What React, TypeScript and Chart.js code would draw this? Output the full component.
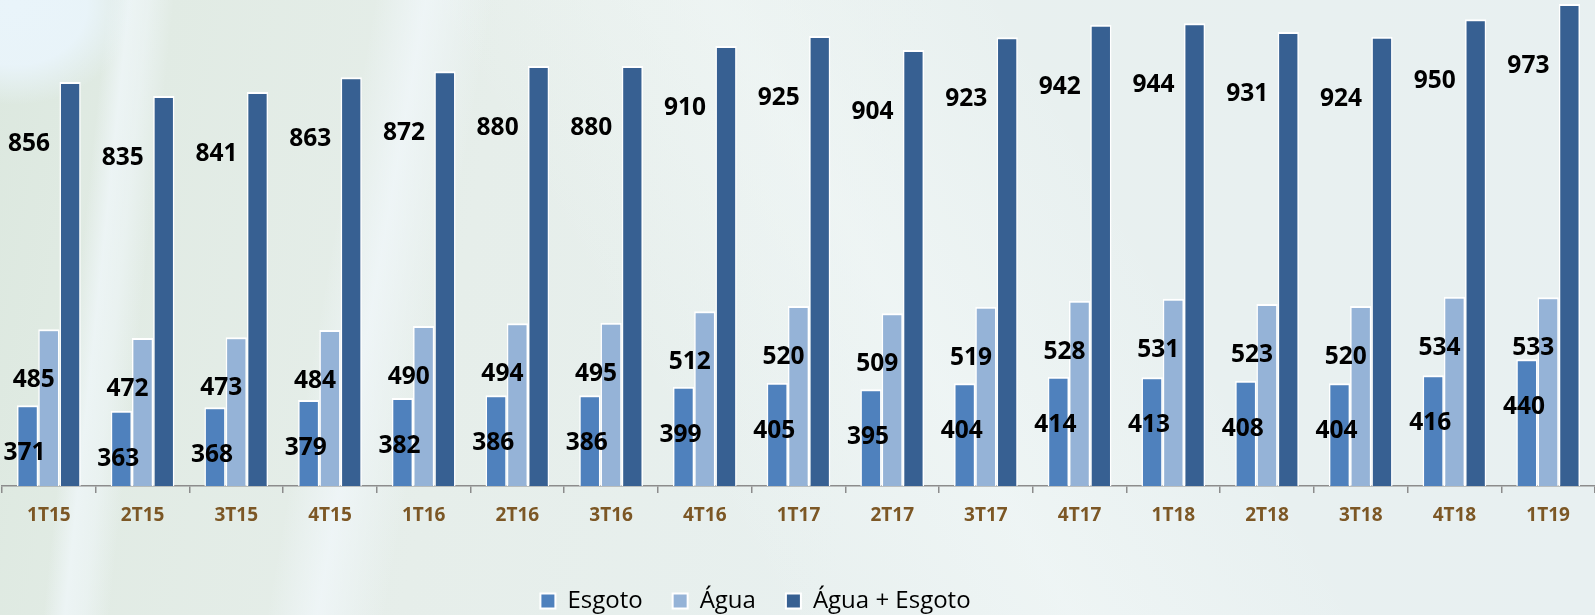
import React, { useEffect, useRef } from "react";
import { Chart, registerables } from "chart.js";

Chart.register(...registerables);

const categories = ["1T15", "2T15", "3T15", "4T15", "1T16", "2T16", "3T16", "4T16", "1T17", "2T17", "3T17", "4T17", "1T18", "2T18", "3T18", "4T18", "1T19"];
const esgoto = [371, 363, 368, 379, 382, 386, 386, 399, 405, 395, 404, 414, 413, 408, 404, 416, 440];
const agua = [485, 472, 473, 484, 490, 494, 495, 512, 520, 509, 519, 528, 531, 523, 520, 534, 533];
const aguaEsgoto = [856, 835, 841, 863, 872, 880, 880, 910, 925, 904, 923, 942, 944, 931, 924, 950, 973];
const seriesNames = ["Esgoto", "Água", "Água + Esgoto"];

const yMin = 250;
const yMax = 979;

const seriesColors = ["#4f81bd", "#95b3d7", "#376092"];
// label placement relative to each bar's top (pixels)
const labelOffsets = [
  { dx: -3, dy: 48 },
  { dx: -15, dy: 51 },
  { dx: -41, dy: 62 },
];

const valueLabels = {
  id: "valueLabels",
  afterDatasetsDraw(chart: any) {
    const ctx = chart.ctx;
    ctx.save();
    ctx.font = 'bold 24.5px "Open Sans"';
    ctx.fillStyle = "#000000";
    ctx.textAlign = "center";
    ctx.textBaseline = "middle";
    chart.data.datasets.forEach((ds: any, di: number) => {
      const meta = chart.getDatasetMeta(di);
      const off = labelOffsets[di];
      meta.data.forEach((bar: any, i: number) => {
        ctx.fillText(String(ds.data[i]), bar.x + off.dx, bar.y + off.dy);
      });
    });
    ctx.restore();
  },
};

const legendShift = {
  id: "legendShift",
  afterLayout(chart: any) {
    const lg = chart.legend;
    if (lg) {
      lg.left -= 43;
      lg.right -= 43;
    }
  },
};

const background = [
  "radial-gradient(ellipse 120px 100px at 15px 5px, rgba(233,244,250,1) 0%, rgba(233,244,250,0.95) 60%, rgba(233,244,250,0) 100%)",
  "linear-gradient(96deg, rgba(240,247,250,0) 6.5%, rgba(240,247,250,0.75) 7.8%, rgba(240,247,250,0.55) 9%, rgba(240,247,250,0) 10.5%)",
  "linear-gradient(100deg, rgba(240,247,250,0) 22%, rgba(242,248,252,0.7) 25%, rgba(240,247,250,0) 29%)",
  "linear-gradient(60deg, rgba(255,255,255,0) 40%, rgba(245,250,250,0.45) 55%, rgba(255,255,255,0) 70%)",
  "linear-gradient(100deg, #dce8df 0%, #e1ebe4 10%, #e6eeea 30%, #e8f0ef 55%, #e8f0f1 100%)",
].join(", ");

export default function App() {
  const ref = useRef<HTMLCanvasElement>(null);

  useEffect(() => {
    document.body.style.margin = "0";
    document.body.style.overflow = "hidden";
    const canvas = ref.current;
    if (!canvas) return;
    const values = [esgoto, agua, aguaEsgoto];
    const chart = new Chart(canvas, {
      type: "bar",
      data: {
        labels: categories,
        datasets: values.map((d, i) => ({
          label: seriesNames[i],
          data: d,
          backgroundColor: seriesColors[i],
          borderColor: "#ffffff",
          borderWidth: { top: 2, left: 1.5, right: 1.5, bottom: 0 },
          borderSkipped: "bottom",
          categoryPercentage: 0.68,
          barPercentage: 1,
        })),
      },
      options: {
        responsive: false,
        animation: false,
        devicePixelRatio: 1,
        layout: { padding: { left: 2, right: 0, top: 0, bottom: 0 } },
        plugins: {
          tooltip: { enabled: false },
          legend: {
            position: "bottom",
            labels: {
              boxWidth: 15,
              boxHeight: 15,
              padding: 30,
              color: "#000000",
              font: { family: '"Open Sans"', size: 24 },
              generateLabels: (chart: any) =>
                chart.data.datasets.map((ds: any, i: number) => ({
                  text: ds.label,
                  fillStyle: seriesColors[i],
                  strokeStyle: "#ffffff",
                  lineWidth: 2,
                  datasetIndex: i,
                  hidden: false,
                })),
            },
          },
        },
        scales: {
          x: {
            grid: {
              display: true,
              offset: true,
              drawOnChartArea: false,
              drawTicks: true,
              tickLength: 7,
              color: "#8c8c8c",
              lineWidth: 1.5,
            },
            border: { display: true, color: "#8c8c8c", width: 1.5 },
            ticks: {
              padding: 11,
              color: "#7c5725",
              font: { family: '"Open Sans"', size: 19, weight: "bold" },
              maxRotation: 0,
              autoSkip: false,
            },
            afterFit: (scale: any) => {
              scale.height = 73;
            },
          },
          y: {
            display: false,
            min: yMin,
            max: yMax,
          },
        },
      },
      plugins: [valueLabels, legendShift],
    } as any);
    return () => chart.destroy();
  }, []);

  return (
    <div
      style={{
        width: 1595,
        height: 615,
        overflow: "hidden",
        position: "relative",
        background,
      }}
    >
      <canvas ref={ref} width={1595} height={623} style={{ display: "block", width: 1595, height: 623 }} />
    </div>
  );
}
